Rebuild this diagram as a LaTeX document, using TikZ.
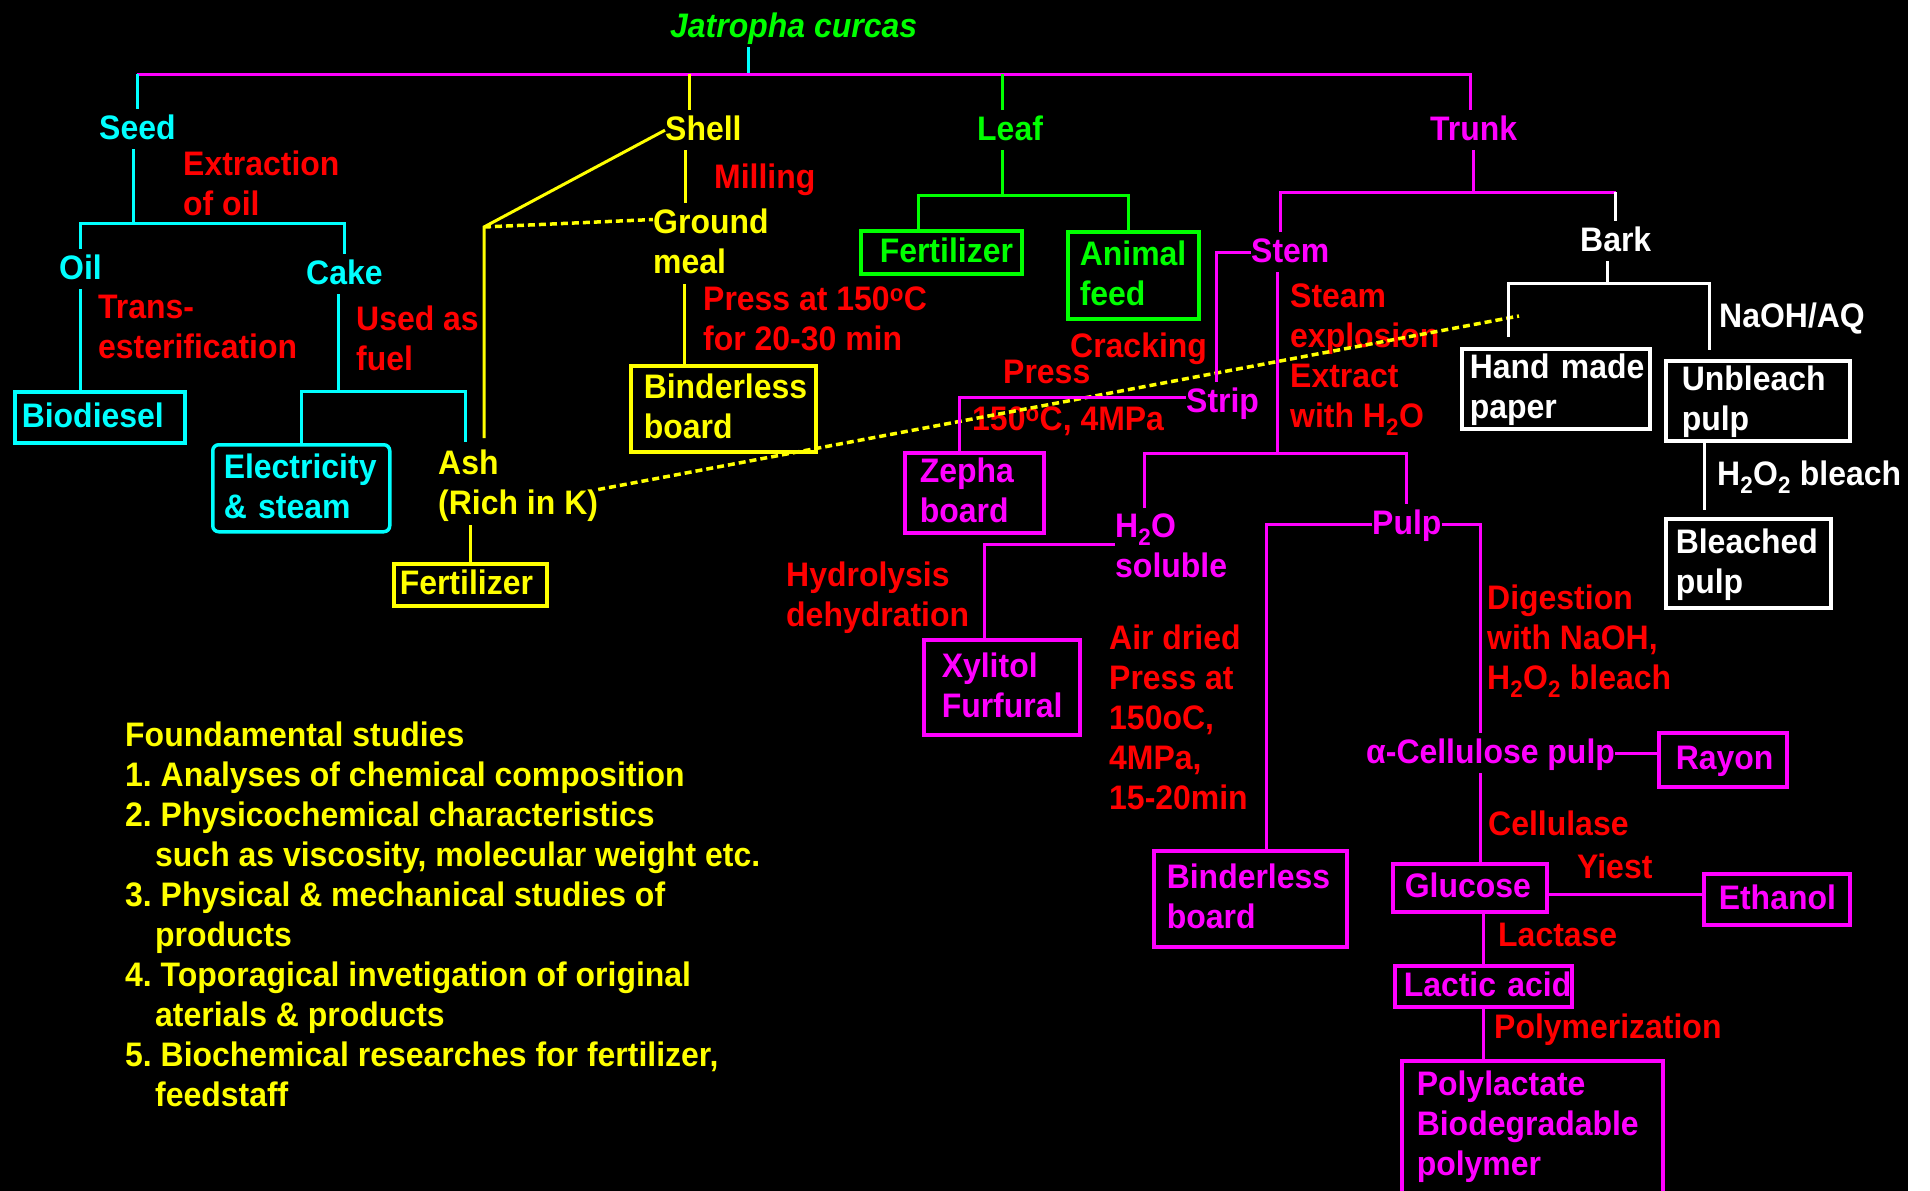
\documentclass[tikz,border=0pt]{standalone}
\usepackage{fontspec}
\setmainfont{Liberation Sans}[FakeStretch=0.94]
\usepackage{tikz}

\definecolor{seedcol}{RGB}{0,255,255}
\definecolor{trunkcol}{RGB}{255,0,255}
\definecolor{shellcol}{RGB}{255,255,0}
\definecolor{leafcol}{RGB}{0,255,0}
\definecolor{stepcol}{RGB}{255,0,0}

\begin{document}
\begin{tikzpicture}[
	  x=1pt, y=-1pt,
	  font=\bfseries\fontsize{34pt}{40pt}\selectfont\frenchspacing,
	  lbl/.style={
	    anchor=north west,
	    inner sep=0pt,
	    align=left,
	    execute at begin node={\rule{0pt}{30pt}},
	    execute at end node={\rule[-10pt]{0pt}{10pt}}
	  },
	  box/.style={lbl, draw, line width=3.5pt},
	  seedbox/.style={box, draw=seedcol, text=seedcol},
	  shellbox/.style={box, draw=shellcol, text=shellcol},
	  leafbox/.style={box, draw=leafcol, text=leafcol},
	  trunkbox/.style={box, draw=trunkcol, text=trunkcol},
	  barkbox/.style={box, draw=white, text=white},
	  seedtxt/.style={lbl, text=seedcol},
	  shelltxt/.style={lbl, text=shellcol},
	  leaftxt/.style={lbl, text=leafcol},
	  trunktxt/.style={lbl, text=trunkcol},
	  barktxt/.style={lbl, text=white},
	  steptxt/.style={lbl, text=stepcol},
	  seedln/.style={draw=seedcol, line width=3pt},
	  shellln/.style={draw=shellcol, line width=3pt},
	  leafln/.style={draw=leafcol, line width=3pt},
	  trunkln/.style={draw=trunkcol, line width=3pt},
	  barkln/.style={draw=white, line width=3pt},
	  dashline/.style={line width=3.5pt, dash pattern=on 7pt off 4pt}
	]

	% --- Page ---
	\useasboundingbox (0,0) rectangle (1930,1191);
	\clip (0,0) rectangle (1930,1191);
	\fill[black] (0,0) rectangle (1908,1191);
	\fill[white] (1908,0) rectangle (1930,1191);

	% --- Top ---
	\node[leaftxt] (title) at (670,7) {\itshape Jatropha curcas};
	\node[seedtxt] (seed) at (99,109) {Seed};
	\node[shelltxt] (shell) at (665,110) {Shell};
	\node[leaftxt] (leaf) at (977,110) {Leaf};
	\node[trunktxt] (trunk) at (1430,110) {Trunk};

	% --- Seed ---
	\node[steptxt] (extract) at (183,151) {Extraction\\of oil};
	\node[seedtxt] (oil) at (59,249) {Oil};
	\node[seedtxt] (cake) at (306,254) {Cake};
	\node[steptxt] (trans) at (98,295) {Trans-\\esterification};
	\node[steptxt] (fuel) at (356,306) {Used as\\fuel};
	\node[seedbox, minimum width=170pt, minimum height=51pt, text width=156pt] (biodiesel) at (13,390) {Biodiesel};
	\node[seedbox, rounded corners=6pt, minimum width=177pt, minimum height=87pt, text width=155pt] (elec) at (211,443) {Electricity\\\& steam};

	% --- Shell ---
	\node[steptxt] (milling) at (714,158) {Milling};
	\node[shelltxt] (ground) at (653,209) {Ground\\meal};
	\node[steptxt] (shellpress) at (703,287) {Press at 150\textsuperscript{o}C\\for 20-30 min};
	\node[shellbox, minimum width=185pt, minimum height=86pt, text width=159pt] (shellboard) at (629,364) {Binderless\\board};
	\node[shelltxt] (ash) at (438,450) {Ash\\(Rich in K)};
	\node[shellbox, minimum width=153pt, minimum height=42pt, text width=141pt] (ashfert) at (392,562) {Fertilizer};

	% --- Leaf ---
	\node[leafbox, minimum width=161pt, minimum height=43pt, text width=123pt] (leaffert) at (859,229) {Fertilizer};
	\node[leafbox, minimum width=131pt, minimum height=87pt, text width=107pt] (feed) at (1066,230) {Animal\\feed};

	% --- Trunk: stem ---
	\node[trunktxt] (stem) at (1251,232) {Stem};
	\node[steptxt] (steam) at (1290,284) {Steam\\explosion\\Extract\\with H\textsubscript{2}O};
	\node[steptxt] (cracking) at (1070,327) {Cracking};
	\node[steptxt] (press) at (1003,353) {Press};
	\node[trunktxt] (strip) at (1186,382) {Strip};
	\node[steptxt] (pressval) at (972,400) {150\textsuperscript{o}C, 4MPa};
	\node[trunkbox, minimum width=139pt, minimum height=76pt, text width=109pt] (zepha) at (903,451) {Zepha\\board};
	\node[trunktxt] (water) at (1115,514) {H\textsubscript{2}O\\soluble};
	\node[trunktxt] (pulp) at (1372,504) {Pulp};
	\node[steptxt] (hydro) at (786,562) {Hydrolysis\\dehydration};
	\node[trunkbox, minimum width=156pt, minimum height=95pt, text width=120pt] (xylitol) at (922,638) {Xylitol\\Furfural};
	\node[steptxt] (airdry) at (1109,625) {Air dried\\Press at\\150oC,\\4MPa,\\15-20min};
	\node[trunkbox, minimum width=193pt, minimum height=96pt, text width=167pt] (stemboard) at (1152,849) {Binderless\\board};
	\node[steptxt] (digest) at (1487,585) {Digestion\\with NaOH,\\H\textsubscript{2}O\textsubscript{2} bleach};
	\node[trunktxt] (alpha) at (1366,733) {α-Cellulose pulp};
	\node[trunkbox, minimum width=128pt, minimum height=54pt, text width=94pt] (rayon) at (1657,731) {Rayon};
	\node[steptxt] (cellulase) at (1488,805) {Cellulase};
	\node[steptxt] (yiest) at (1577,848) {Yiest};
	\node[trunkbox, minimum width=154pt, minimum height=48pt, text width=130pt] (glucose) at (1391,862) {Glucose};
	\node[trunkbox, minimum width=146pt, minimum height=51pt, text width=116pt] (ethanol) at (1702,872) {Ethanol};
	\node[steptxt] (lactase) at (1498,916) {Lactase};
	\node[trunkbox, minimum width=177pt, minimum height=41pt, text width=159pt] (lactic) at (1393,964) {Lactic~acid};
	\node[steptxt] (polymerize) at (1494,1008) {Polymerization};
	\node[trunkbox, minimum width=261pt, minimum height=150pt, text width=231pt,
	  execute at end node={\rule[-30pt]{0pt}{30pt}}] (poly) at (1400,1059) {Polylactate\\Biodegradable\\polymer};

	% --- Trunk: bark ---
	\node[barktxt] (bark) at (1580,221) {Bark};
	\node[barktxt] (naoh) at (1719,297) {NaOH/AQ};
	\node[barkbox, minimum width=188pt, minimum height=80pt, text width=172pt] (paper) at (1460,347) {Hand~made\\paper};
	\node[barkbox, minimum width=184pt, minimum height=79pt, text width=152pt] (unbleach) at (1664,359) {Unbleach\\pulp};
	\node[barktxt] (bleach) at (1717,455) {H\textsubscript{2}O\textsubscript{2} bleach};
	\node[barkbox, minimum width=165pt, minimum height=89pt, text width=145pt] (bleached) at (1664,517) {Bleached\\pulp};

	% --- Studies ---
	\node[shelltxt] (studies) at (125,722) {Foundamental studies\\
	  1. Analyses of chemical composition\\
	  2. Physicochemical characteristics\\
	  \hspace*{30pt}such as viscosity, molecular weight etc.\\
	  3. Physical \& mechanical studies of\\
	  \hspace*{30pt}products\\
	  4. Toporagical invetigation of original\\
	  \hspace*{30pt}aterials \& products\\
	  5. Biochemical researches for fertilizer,\\
	  \hspace*{30pt}feedstaff};

	% --- Junctions ---
	\coordinate (root) at (748,74);
	\coordinate (barL) at (137,74);
	\coordinate (barR) at (1470,74);
	\coordinate (shelltop) at (689,74);
	\coordinate (leaftop) at (1002,74);
	\coordinate (seedbar) at (133,223);
	\coordinate (cakebar) at (338,391);
	\coordinate (ashx) at (465,0);
	\coordinate (shellknee) at (484,227);
	\coordinate (dotend) at (1519,316);
	\coordinate (leafbar) at (1002,195);
	\coordinate (trunkbar) at (1475,192);
	\coordinate (stembar) at (1277,453);
	\coordinate (barkbar) at (1607,283);

	% --- Flows ---
	\draw[seedln] (title.south -| root) -- (root);
	\draw[trunkln] (barL) -- (barR) -- (trunk.north -| barR);
	\draw[seedln] (barL) -- (seed.north -| barL);
	\draw[shellln] (shelltop) -- (shell.north -| shelltop);
	\draw[leafln] (leaftop) -- (leaf.north -| leaftop);

	\draw[seedln] (seed.south -| seedbar) -- (seedbar);
	\draw[seedln] (oil.north) |- (seedbar) -| (cake.north);
	\draw[seedln] (oil.south) -- (oil.south |- biodiesel.north);
	\draw[seedln] (cake.south -| cakebar) -- (cakebar);
	\draw[seedln] (elec.north) |- (cakebar) -| ([yshift=8pt]ash.north -| ashx);

	\draw[shellln] (shell.west) -- (shellknee) -- ([yshift=12pt]ash.north -| shellknee);
	\draw[shellln, dashline] (shellknee) -- ([yshift=27pt]ground.west);
	\draw[shellln] ([xshift=-18pt]shell.south) -- ([xshift=-18pt,yshift=6pt]shell.south |- ground.north);
	\draw[shellln] ([xshift=-26pt]ground.south) -- ([xshift=-26pt]ground.south |- shellboard.north);
	\draw[shellln] (ash.south -| ashfert.north) -- (ashfert.north);
	\draw[shellln, dashline] ([yshift=-2pt]ash.east) -- (dotend);

	\draw[leafln] (leaf.south -| leafbar) -- (leafbar);
	\draw[leafln] ([xshift=-23pt]leaffert.north) |- (leafbar) -| ([xshift=-5pt]feed.north);

	\draw[trunkln] (trunk.south) -- (trunk.south |- trunkbar);
	\draw[trunkln] ([xshift=-10pt]stem.north) |- (bark.north |- trunkbar);
	\draw[barkln] (bark.north |- trunkbar) -- (bark.north);
	\draw[trunkln] (stem.west) -| ([xshift=-6pt]strip.north);
	\draw[trunkln] ([yshift=5pt]strip.west) -| ([xshift=-15pt]zepha.north);
	\draw[trunkln] (stem.south -| stembar) -- (stembar);
	\draw[trunkln] ([xshift=-27pt,yshift=6pt]water.north) |- (stembar) -| (pulp.north);
	\draw[trunkln] ([yshift=7pt]water.west) -| ([xshift=-17pt]xylitol.north);
	\draw[trunkln] (pulp.west) -| ([xshift=16pt]stemboard.north);
	\draw[trunkln] (pulp.east) -| ([xshift=-10pt]alpha.north);
	\draw[trunkln] (alpha.east) -- (alpha.east -| rayon.west);
	\draw[trunkln] ([xshift=-10pt]alpha.south) -- ([xshift=-10pt]alpha.south |- glucose.north);
	\draw[trunkln] ([yshift=-7pt]glucose.east) -- ([yshift=-7pt]glucose.east -| ethanol.west);
	\draw[trunkln] (lactic.north |- glucose.south) -- (lactic.north);
	\draw[trunkln] (lactic.south) -- (lactic.south |- poly.north);

	\draw[barkln] (bark.south -| barkbar) -- (barkbar);
	\draw[barkln, shorten <=10pt, shorten >=9pt] ([xshift=-47pt]paper.north) |- (barkbar) -| ([xshift=-48pt]unbleach.north);
	\draw[barkln, shorten >=7pt] ([xshift=-53pt]unbleach.south) -- ([xshift=-53pt]unbleach.south |- bleached.north);

\end{tikzpicture}
\end{document}
